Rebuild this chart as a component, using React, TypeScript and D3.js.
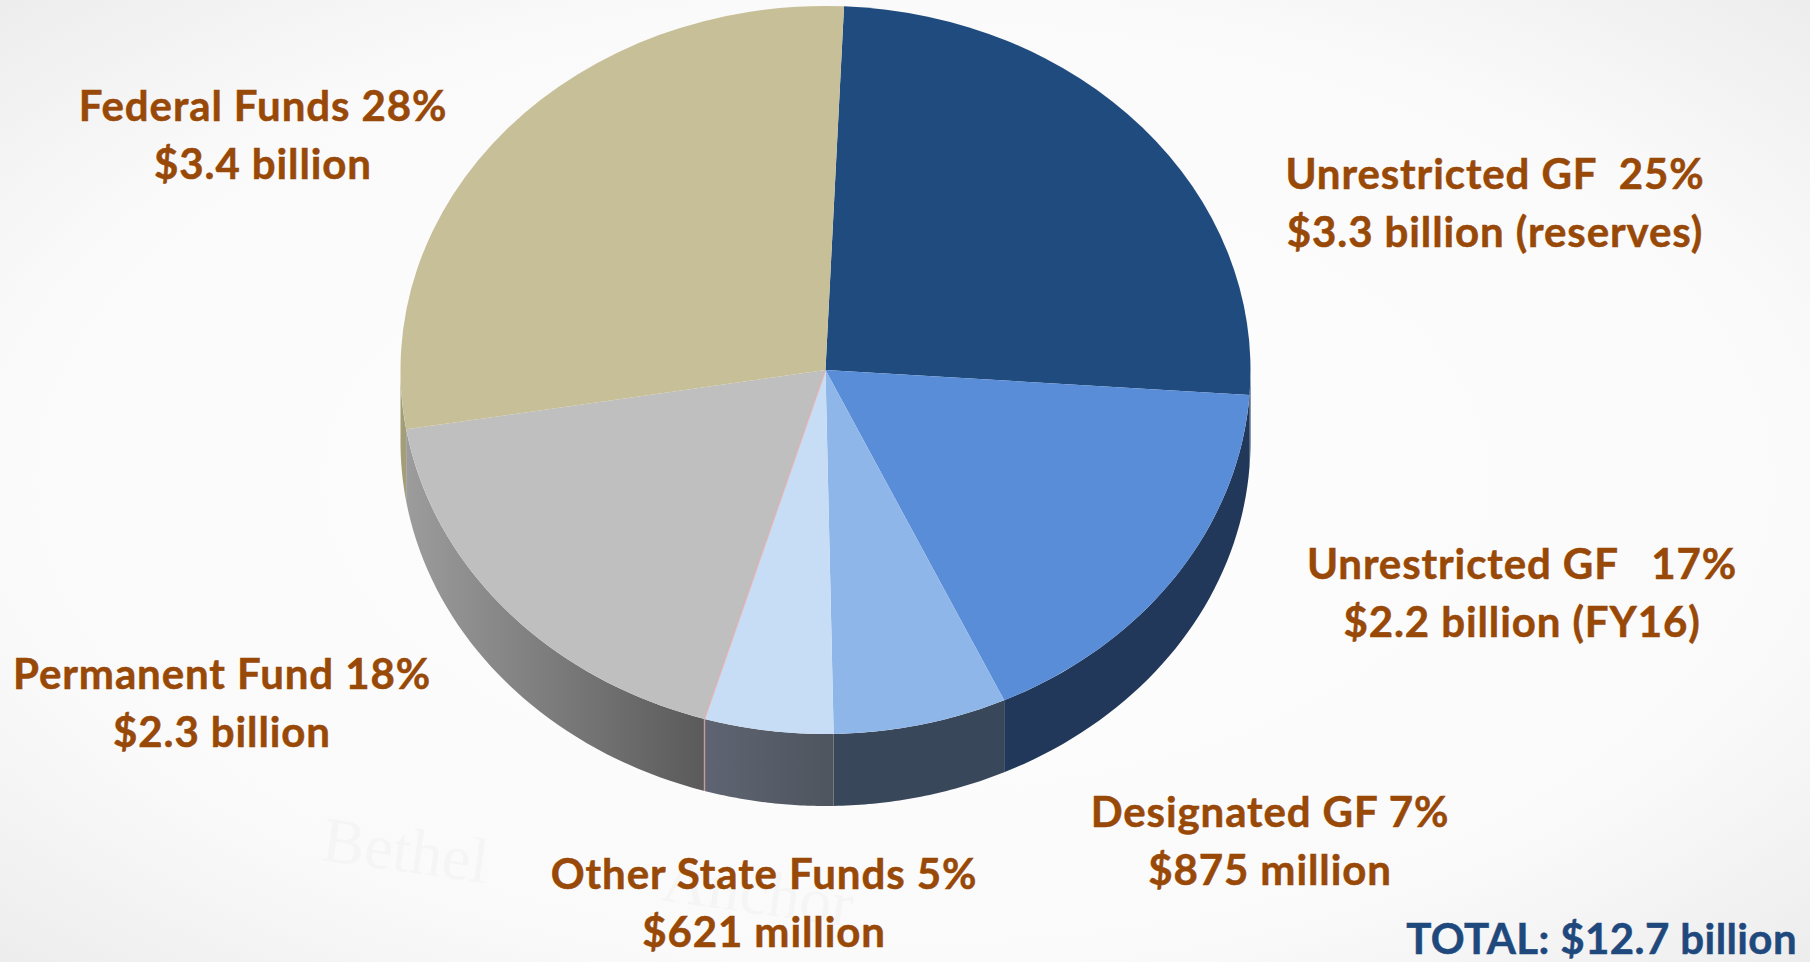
import React from "react";
import * as d3 from "d3";

const categories = ["Unrestricted GF 25", "Unrestricted GF 17", "Designated GF", "Other State Funds", "Permanent Fund", "Federal Funds"];
const shares = [25.4, 17.0, 6.6, 4.9, 17.8, 28.3];
const topColors = ["#204b7e", "#598dd7", "#8fb6e9", "#c7dcf5", "#bfbfbf", "#c7bf97"];
const sideStart = ["#1a3a62", "#22385a", "#39475b", "#5e6471", "#9c9c9c", "#a39d78"];
const sideEnd = ["#1a3a62", "#22385a", "#39475b", "#4f555f", "#5a5a5a", "#a39d78"];
const labelLines = [
  ["Unrestricted GF  25%", "$3.3 billion (reserves)"],
  ["Unrestricted GF   17%", "$2.2 billion (FY16)"],
  ["Designated GF 7%", "$875 million"],
  ["Other State Funds 5%", "$621 million"],
  ["Permanent Fund 18%", "$2.3 billion"],
  ["Federal Funds 28%", "$3.4 billion"],
];
const labelX = [1495, 1522, 1270, 764, 222, 263];
const labelY = [189, 579, 827, 889, 689, 121];
const watermarkWords = ["Bethel", "Anchor"];
const watermarkX = [320, 660];
const watermarkY = [860, 900];

const W = 1810, H = 962;
const cx = 825.5, cy = 370, rx = 425, ry = 364, depth = 72;
const startDeg = 2.5;
const rad = Math.PI / 180;

export default function App() {
  const pie = d3.pie<number>().sort(null).startAngle(startDeg * rad).endAngle((startDeg + 360) * rad);
  const arcs = pie(shares);
  const arcGen = d3.arc<d3.PieArcDatum<number>>().innerRadius(0).outerRadius(rx);
  const px = (a: number) => cx + rx * Math.sin(a);
  const py = (a: number) => cy - ry * Math.cos(a);
  // Lower half of the rim only: angles between 90deg and 270deg
  const sidePath = (d: d3.PieArcDatum<number>) => {
    const a0 = Math.max(d.startAngle, 90 * rad);
    const a1 = Math.min(d.endAngle, 270 * rad);
    if (a1 <= a0) return null;
    const pts = d3.range(0, 41).map((i) => a0 + ((a1 - a0) * i) / 40);
    const top = pts.map((a) => [px(a), py(a)] as [number, number]);
    const bot = pts.slice().reverse().map((a) => [px(a), py(a) + depth] as [number, number]);
    return d3.line()([...top, ...bot]) + "Z";
  };
  const font = "Lato, Carlito, sans-serif";
  return (
    <svg width={W} height={H} viewBox={`0 0 ${W} ${H}`} style={{ position: "absolute", left: 0, top: 0, display: "block" }}>
      <defs>
        <radialGradient id="bg" cx="50%" cy="50%" r="72%">
          <stop offset="0%" stopColor="#fefefe" />
          <stop offset="70%" stopColor="#fafafa" />
          <stop offset="100%" stopColor="#ececec" />
        </radialGradient>
        {arcs.map((d, i) => {
          const a0 = Math.max(d.startAngle, 90 * rad), a1 = Math.min(d.endAngle, 270 * rad);
          return (
            <linearGradient key={i} id={`wall${i}`} gradientUnits="userSpaceOnUse"
              x1={Math.min(px(a0), px(a1))} x2={Math.max(px(a0), px(a1))} y1={0} y2={0}>
              <stop offset="0%" stopColor={sideStart[i]} />
              <stop offset="100%" stopColor={sideEnd[i]} />
            </linearGradient>
          );
        })}
      </defs>
      <rect width={W} height={H} fill="url(#bg)" />
      {watermarkWords.map((w, i) => (
        <text key={w} x={watermarkX[i]} y={watermarkY[i]} fontFamily="Liberation Serif, serif" fontSize={64} fill="#f5f5f5" transform={`rotate(8 ${watermarkX[i]} ${watermarkY[i]})`}>{w}</text>
      ))}
      {arcs.map((d, i) => {
        const p = sidePath(d);
        return p ? <path key={categories[i]} d={p} fill={`url(#wall${i})`} /> : null;
      })}
      <g transform={`translate(${cx},${cy}) scale(1,${ry / rx})`}>
        {arcs.map((d, i) => (
          <path key={categories[i]} d={arcGen(d) ?? ""} fill={topColors[i]} />
        ))}
      </g>
      <path d={`M${cx},${cy}L${px(arcs[4].startAngle)},${py(arcs[4].startAngle)}V${py(arcs[4].startAngle) + depth}`} fill="none" stroke="#e9a9a4" strokeOpacity={0.65} strokeWidth={1.5} />
      {labelLines.map((lines, i) => (
        <text key={i} fontFamily={font} fontWeight={700} fontSize={42} letterSpacing={0.9} stroke="#984807" strokeWidth={0.5} fill="#984807" textAnchor="middle" style={{ whiteSpace: "pre" }}>
          <tspan x={labelX[i]} y={labelY[i]} xmlSpace="preserve">{lines[0]}</tspan>
          <tspan x={labelX[i]} y={labelY[i] + 58} xmlSpace="preserve">{lines[1]}</tspan>
        </text>
      ))}
      <text x={1797} y={954} textAnchor="end" fontFamily={font} fontWeight={700} fontSize={42} letterSpacing={0.4} stroke="#1f497d" strokeWidth={0.5} fill="#1f497d">TOTAL: $12.7 billion</text>
    </svg>
  );
}
